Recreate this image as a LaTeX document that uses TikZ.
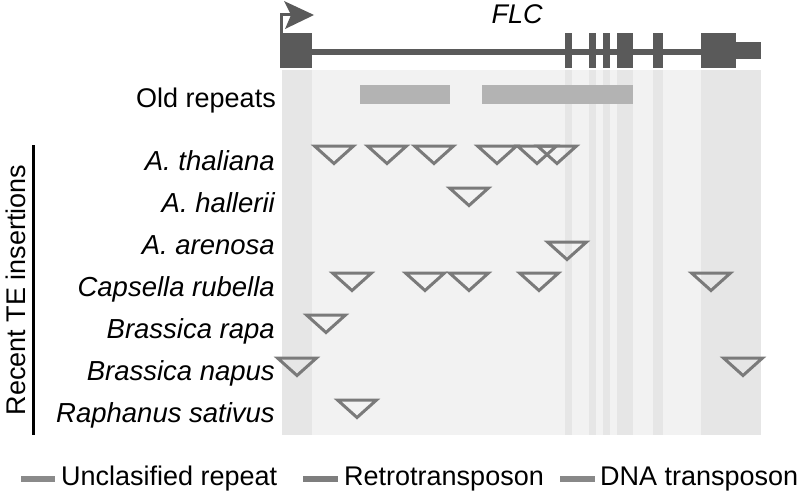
\documentclass[tikz,border=0pt]{standalone}
\usepackage{fontspec}
\setmainfont{Liberation Sans}
\definecolor{genec}{HTML}{5A5A5A}
\definecolor{panelc}{HTML}{F2F2F2}
\definecolor{stripec}{HTML}{E6E6E6}
\definecolor{oldc}{HTML}{B3B3B3}
\definecolor{tric}{HTML}{7A7A7A}
\definecolor{legA}{HTML}{8A8A8A}
\definecolor{legB}{HTML}{7E7E7E}
\definecolor{legC}{HTML}{888888}
\tikzset{
  lab/.style={inner sep=0pt, font=\fontsize{27}{32}\selectfont},
  spec/.style={lab, anchor=base east, font=\fontsize{27.5}{32}\selectfont\itshape},
  exon/.style={fill=genec},
  stripe/.style={fill=stripec},
  ins/.pic={\draw[tric, line width=3pt, line join=miter] (-19.5,2) -- (19.5,2) -- (0,19.5) -- cycle;}
}
\begin{document}
\begin{tikzpicture}[x=1pt,y=-1pt]
\useasboundingbox (0,0) rectangle (800,495);
% panel and stripes
\fill[panelc] (282,70) rectangle (761,435);
\foreach \a/\b in {282/312, 565/572, 589/596, 603/610, 617/633, 653/663, 701/761}
  \fill[stripe] (\a,70) rectangle (\b,435);
% gene model
\fill[genec] (312,49) rectangle (701,55);
\foreach \a/\b in {280/312, 565/572, 589/596, 603/610, 617/633, 653/663, 701/736}
  \fill[exon] (\a,33) rectangle (\b,68);
\fill[exon] (736,42) rectangle (761,59);
% transcription start arrow
\draw[genec, line width=3.5pt] (281.5,33) -- (281.5,14.5) -- (292,14.5);
\fill[genec] (284,1) -- (314,15) -- (285,29) -- (291,15) -- cycle;
\node[lab, anchor=base, font=\fontsize{27}{32}\selectfont\itshape] (flc) at (517,24) {FLC};
% old repeats
\node[lab, anchor=base east] (old) at (276,107) {Old repeats};
\fill[oldc] (360,85) rectangle (450,104);
\fill[oldc] (482,85) rectangle (633,104);
% species labels
\node[spec] (ath) at (275,170) {A. thaliana};
\node[spec] (ahal) at (275,212) {A. hallerii};
\node[spec] (aare) at (275,254) {A. arenosa};
\node[spec] (crub) at (275,296) {Capsella rubella};
\node[spec] (brap) at (275,338) {Brassica rapa};
\node[spec] (bnap) at (275,380) {Brassica napus};
\node[spec] (rsat) at (275,422) {Raphanus sativus};
% side label
\draw[black, line width=3pt] (33.5,145) -- (33.5,435);
\node[lab, anchor=base, rotate=90] (recent) at (25,290) {Recent TE insertions};
% insertions
\foreach \x in {334,387,434,497,537,557} \pic at (\x,144) {ins};
\pic at (469,186) {ins};
\pic at (567,240) {ins};
\foreach \x in {352,425,469,539,711} \pic at (\x,271) {ins};
\pic at (326,313) {ins};
\foreach \x in {297,743} \pic at (\x,356) {ins};
\pic at (357,398) {ins};
% legend
\fill[legA] (21,476) rectangle (55,482);
\node[lab, anchor=base west] (lunc) at (61,485) {Unclasified repeat};
\fill[legB] (303,476) rectangle (338,482);
\node[lab, anchor=base west] (lret) at (344,485) {Retrotransposon};
\fill[legC] (560,476) rectangle (595,482);
\node[lab, anchor=base west] (ldna) at (600,485) {DNA transposon};
\end{tikzpicture}
\end{document}
